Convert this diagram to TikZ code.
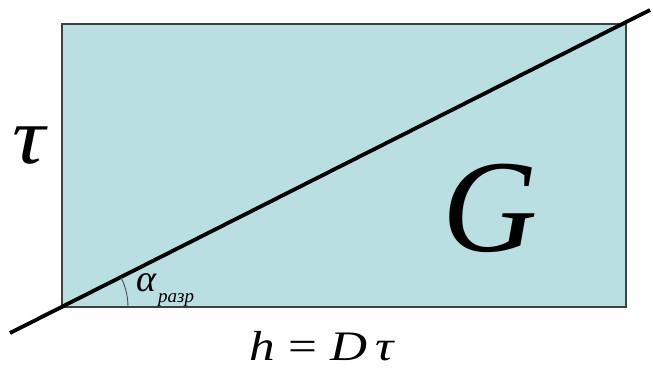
\documentclass[tikz,border=0pt]{standalone}
\usepackage{fontspec}
\setmainfont{Liberation Serif}
\usetikzlibrary{positioning, calc}
\definecolor{area}{HTML}{B9DFE3}

\begin{document}
\begin{tikzpicture}[x=1pt, y=-1pt]
        \useasboundingbox (0,0) rectangle (653,370);
        \coordinate (bl) at (62,307);
        \coordinate (tr) at (626,24);
        \coordinate (start) at (10,333);
        \coordinate (end) at (650,10);

        \draw[draw=black!75, fill=area, line width=1.2pt] (bl) rectangle (tr);
        \draw[line width=3.8pt] (start) -- (end);
        \draw[draw=black!70, line width=0.9pt] (bl) ++(66pt,0) arc[start angle=0, end angle=26.8, radius=66pt];

        \node (tau) at (29,146) {\scalebox{1.15}[1]{\fontsize{80}{80}\selectfont\itshape τ}};
        \node (G) at (490,208) {\fontsize{132}{132}\selectfont\itshape G};
        \node (alpha) [anchor=base west, inner sep=0pt] at (136,291) {\fontsize{38}{38}\selectfont\itshape α\hspace{2pt}\raisebox{-0.3em}{\fontsize{19}{19}\selectfont разр}};
        \node (h) [anchor=base, inner sep=0pt] at (322,360) {\scalebox{1.22}[1]{\fontsize{42}{42}\selectfont\itshape h\/ \upshape=\itshape\ D\,τ}};
\end{tikzpicture}
\end{document}
